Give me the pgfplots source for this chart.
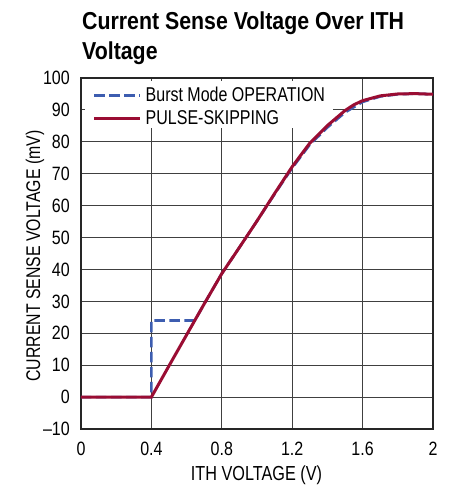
\documentclass[border=0pt]{standalone}
\usepackage{fontspec}
\setmainfont[FakeStretch=0.8]{Liberation Sans}
\newfontfamily\titlefont[FakeStretch=0.87]{Liberation Sans Bold}
\newfontfamily\tickfont[FakeStretch=0.83]{Liberation Sans}
\usepackage{pgfplots}
\pgfplotsset{compat=1.18}
\definecolor{burstblue}{HTML}{3D5DB0}
\definecolor{pskred}{HTML}{9A0D33}
\begin{document}
\begin{tikzpicture}
\useasboundingbox (0pt,0pt) rectangle (464pt,491pt);
\begin{axis}[
  at={(81pt,62pt)}, anchor=south west,
  scale only axis, width=352pt, height=351pt,
  xmin=0, xmax=2, ymin=-10, ymax=100,
  xtick={0,0.4,0.8,1.2,1.6,2},
  xticklabels={0,0.4,0.8,1.2,1.6,2},
  ytick={-10,0,10,20,30,40,50,60,70,80,90,100},
  yticklabels={\textendash10,0,10,20,30,40,50,60,70,80,90,100},
  grid=major,
  major grid style={line width=1pt, black!75},
  axis line style={line width=1.6pt, black!85},
  major tick length=0pt,
  tick label style={font=\tickfont\fontsize{19.3}{22}\selectfont, inner sep=0pt},
  xticklabel style={anchor=north, yshift=-12.7pt},
  yticklabel style={anchor=east, xshift=-11pt},
  legend cell align=left,
  legend style={at={(0.01,0.985)}, anchor=north west, fill=none, draw=none,
    font=\fontsize{20}{22}\selectfont, inner xsep=8pt, inner ysep=4pt,
    row sep=7pt, nodes={inner sep=0pt}},
  legend image code/.code={\draw[#1] (0pt,0pt) -- (46pt,0pt); \path (50pt,0pt);},
]
\fill[white] (rel axis cs:0.01,0.9906) rectangle (rel axis cs:0.716,0.8575);
\addplot[burstblue, line width=2.6pt, dash pattern=on 10.5pt off 4.5pt] coordinates {
(0,0) (0.4,0) (0.4,24) (0.647,24) (0.7,29.2) (0.8,38.7) (0.9,46.9) (1.0,55.2)
(1.1,63.6) (1.2,71.8) (1.3,79.1) (1.4,84.5) (1.5,89.2) (1.6,92.5) (1.7,94.2)
(1.8,94.9) (1.9,95.1) (2.0,94.9)};
\addlegendentry{Burst Mode OPERATION}
\addplot[pskred, line width=3pt] coordinates {
(0,0) (0.4,0) (0.5,9.8) (0.6,19.5) (0.7,29.2) (0.8,38.7) (0.9,46.9) (1.0,55.2)
(1.1,63.8) (1.2,72.2) (1.3,79.6) (1.4,85.1) (1.5,89.8) (1.55,91.6) (1.6,92.9)
(1.7,94.4) (1.8,95.0) (1.9,95.1) (2.0,94.9)};
\addlegendentry{PULSE-SKIPPING}
\end{axis}
\node[anchor=base west, inner sep=0pt, font=\titlefont\fontsize{24.5}{28}\selectfont] at (82pt,461.7pt) {Current Sense Voltage Over ITH};
\node[anchor=base west, inner sep=0pt, font=\titlefont\fontsize{24.5}{28}\selectfont] at (82pt,431.7pt) {Voltage};
\node[anchor=base, inner sep=0pt, font=\fontsize{20.3}{23}\selectfont] at (256.5pt,10pt) {ITH VOLTAGE (V)};
\node[anchor=base, rotate=90, inner sep=0pt, font=\fontsize{19.8}{23}\selectfont] at (40pt,235pt) {CURRENT SENSE VOLTAGE (mV)};
\end{tikzpicture}
\end{document}
